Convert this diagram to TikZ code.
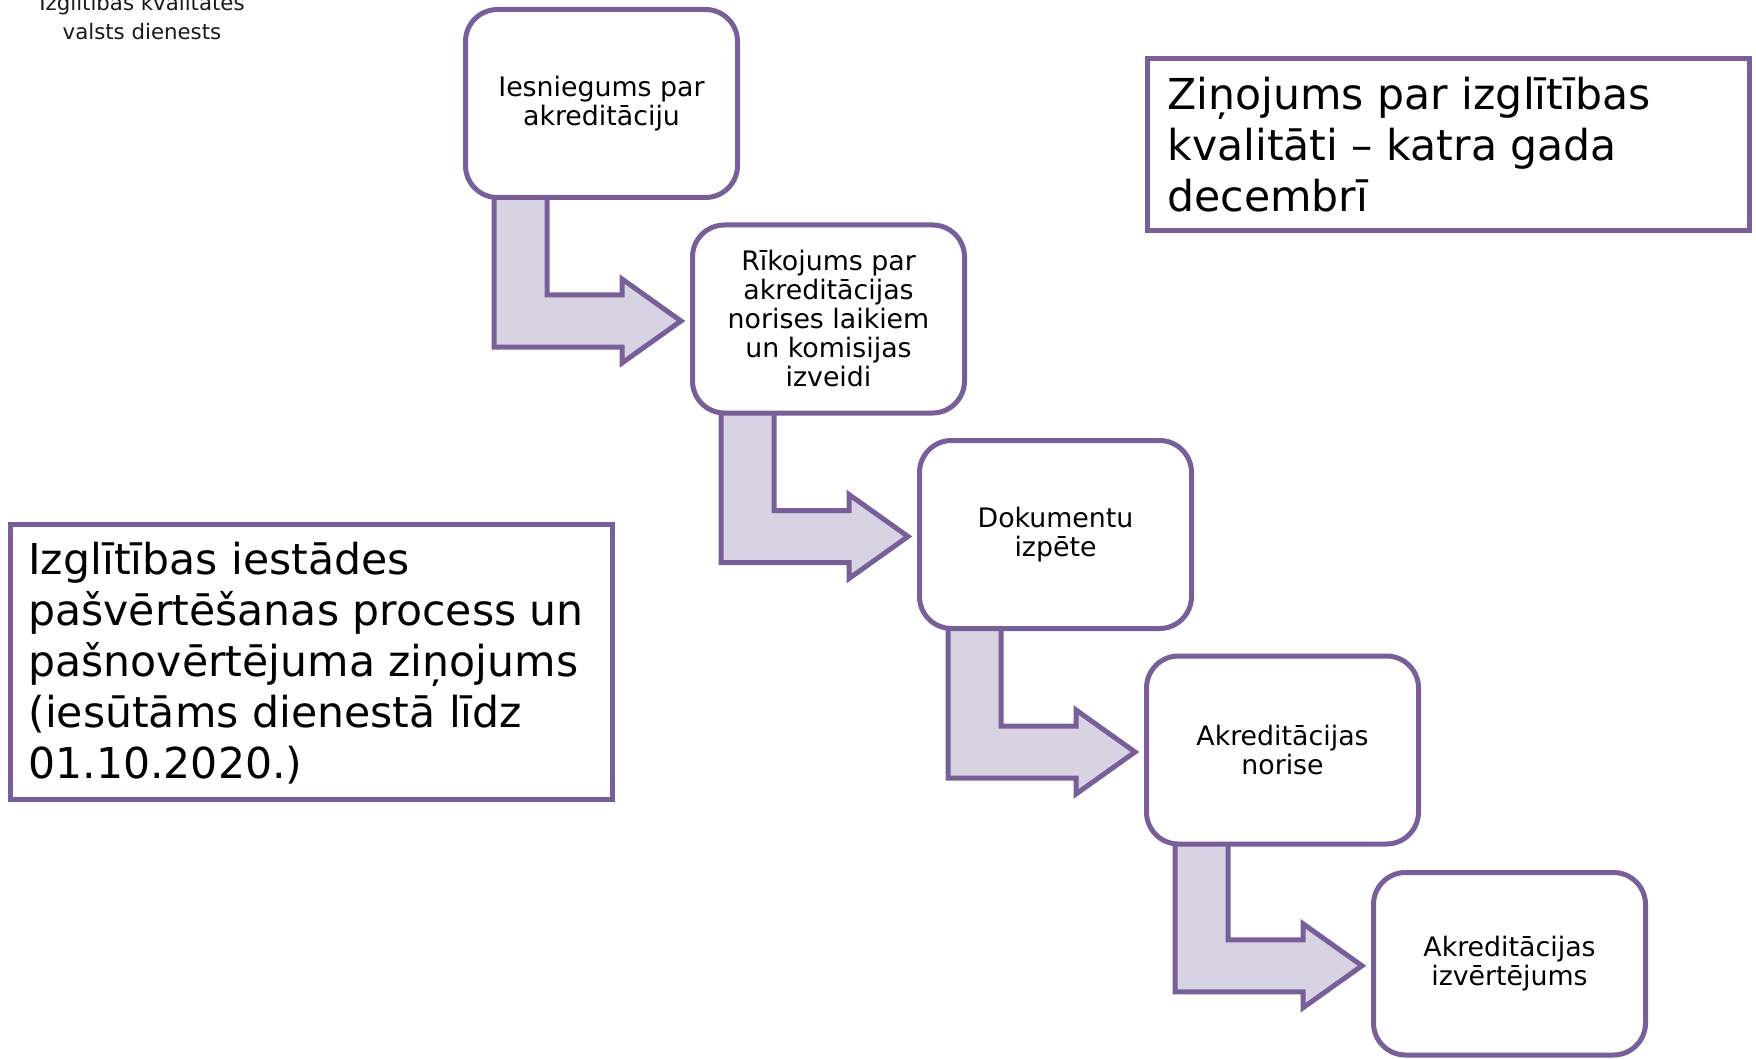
\documentclass[tikz,border=0pt]{standalone}
\usepackage{fontspec}
\setmainfont{DejaVu Sans}
\usetikzlibrary{calc,backgrounds}
\definecolor{purp}{RGB}{120,95,153}
\definecolor{lav}{RGB}{216,211,227}
\newcommand\bendarrow[2]{%
  \coordinate (T) at ($(#2.west)+(-9,2)$);
  \coordinate (L) at ($(#1.south west)+(31,-10)$);
  \coordinate (R) at ($(#1.south west)+(84,-10)$);
  \coordinate (Tb) at ($(T)+(0,26)$);
  \coordinate (Tt) at ($(T)+(0,-26)$);
  \draw[arrowshape] (L) -- (L |- Tb) -- ($(Tb)+(-59,0)$) -- ($(T)+(-59,42)$) -- (T)
    -- ($(T)+(-59,-42)$) -- ($(Tt)+(-59,0)$) -- (R |- Tt) -- (R) -- cycle;
}
\begin{document}
\begin{tikzpicture}[x=0.5pt,y=-0.5pt,
  stepbox/.style={draw=purp, line width=2.5pt, fill=white, rounded corners=16pt,
    minimum width=136pt, minimum height=94pt, align=center, inner sep=0pt,
    font=\fontsize{13.4}{14.5}\selectfont},
  infobox/.style={draw=purp, line width=2.5pt, fill=white, minimum width=301pt, inner sep=0pt},
  bigtext/.style={align=left, inner sep=0pt, anchor=north west, font=\fontsize{21.3}{25.5}\selectfont},
  arrowshape/.style={draw=purp, line width=2.5pt, fill=lav, line join=miter},
  smalltext/.style={align=center, inner sep=0pt, anchor=north, text=black!90, font=\fontsize{10.65}{14.5}\selectfont}
]
\useasboundingbox (0,0) rectangle (1756,1059);
\clip (0,0) rectangle (1756,1059);

\node[smalltext] (dien) at (142,-6) {Izglītības kvalitātes\\valsts dienests};

\node[stepbox] (b1) at (601.5,103.5) {Iesniegums par\\akreditāciju};
\node[stepbox] (b2) at (828.5,319) {Rīkojums par\\akreditācijas\\norises laikiem\\un komisijas\\izveidi};
\node[stepbox] (b3) at (1055.5,534.5) {Dokumentu\\izpēte};
\node[stepbox] (b4) at (1282.5,750) {Akreditācijas\\norise};
\node[stepbox, minimum height=91.25pt] (b5) at (1509.5,963.75) {Akreditācijas\\izvērtējums};

\begin{scope}[on background layer]
  \bendarrow{b1}{b2}
  \bendarrow{b2}{b3}
  \bendarrow{b3}{b4}
  \bendarrow{b4}{b5}
\end{scope}

\node[infobox, minimum height=137.5pt] (lbox) at (311.5,662) {};
\node[bigtext] (ltext) at (28,542) {Izglītības iestādes\\pašvērtēšanas process un\\pašnovērtējuma ziņojums\\(iesūtāms dienestā līdz\\01.10.2020.)};

\node[infobox, minimum height=86pt] (rbox) at (1448.5,144.5) {};
\node[bigtext] (rtext) at (1167,77) {Ziņojums par izglītības\\kvalitāti – katra gada\\decembrī};
\end{tikzpicture}
\end{document}
